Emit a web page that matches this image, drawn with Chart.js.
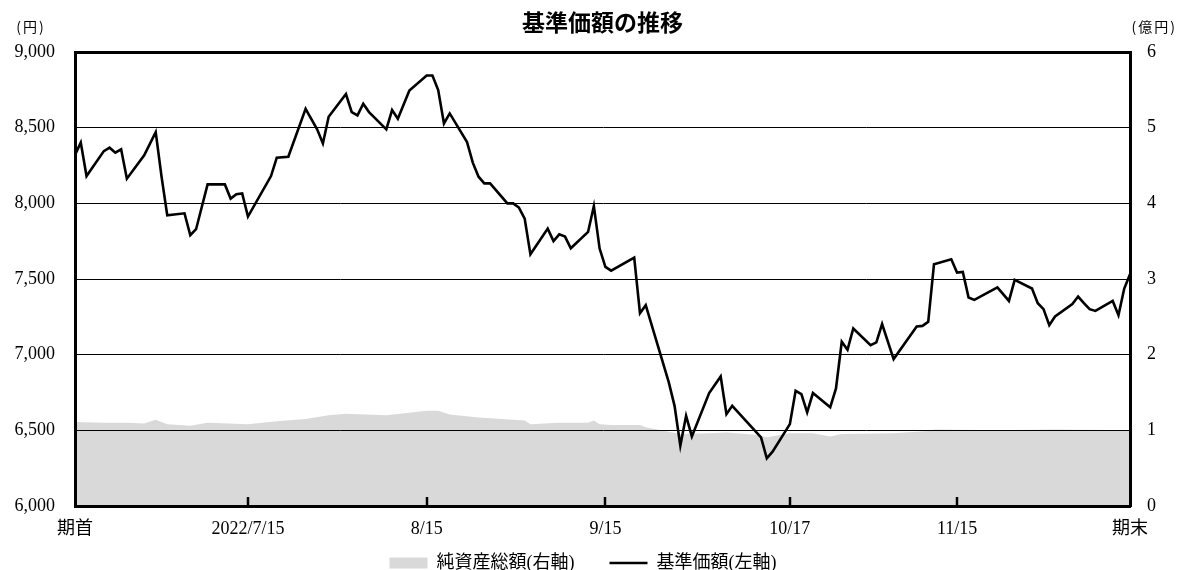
<!DOCTYPE html>
<html lang="ja">
<head>
<meta charset="utf-8">
<title>基準価額の推移</title>
<script src="https://cdn.jsdelivr.net/npm/chart.js@4.4.1/dist/chart.umd.min.js"></script>
<style>
  html, body { margin: 0; padding: 0; background: #fff; }
  canvas { display: block; }
</style>
</head>
<body>
<canvas id="c" width="1178" height="570"></canvas>
<script>
// ---- data (2022) ----
const navDates = ['6/15','6/16','6/17','6/20','6/21','6/22','6/23','6/24','6/27','6/29','6/30','7/1','7/4','7/5','7/6','7/8','7/11','7/12','7/13','7/14','7/15','7/19','7/20','7/22','7/25','7/27','7/28','7/29','8/1','8/2','8/3','8/4','8/5','8/8','8/9','8/10','8/12','8/15','8/16','8/17','8/18','8/19','8/22','8/23','8/24','8/25','8/26','8/29','8/30','8/31','9/1','9/2','9/5','9/6','9/7','9/8','9/9','9/12','9/13','9/14','9/15','9/16','9/20','9/21','9/22','9/26','9/27','9/28','9/29','9/30','10/3','10/5','10/6','10/7','10/12','10/13','10/14','10/17','10/18','10/19','10/20','10/21','10/24','10/25','10/26','10/27','10/28','10/31','11/1','11/2','11/4','11/8','11/9','11/10','11/11','11/14','11/15','11/16','11/17','11/18','11/22','11/24','11/25','11/28','11/29','11/30','12/1','12/2','12/5','12/6','12/7','12/8','12/9','12/12','12/13','12/14','12/15'];
const navValues = [8320,8401,8180,8345,8368,8335,8357,8163,8317,8471,8180,7921,7934,7789,7829,8125,8125,8031,8060,8066,7912,8180,8302,8308,8625,8489,8396,8572,8722,8603,8581,8658,8603,8489,8616,8559,8746,8845,8845,8748,8528,8594,8405,8269,8176,8132,8132,8000,8000,7972,7899,7663,7833,7751,7795,7780,7703,7811,7982,7701,7580,7555,7642,7274,7327,6817,6662,6398,6596,6460,6746,6856,6607,6662,6454,6315,6359,6541,6761,6740,6619,6746,6652,6777,7085,7032,7173,7063,7081,7202,6971,7186,7190,7217,7598,7630,7543,7547,7378,7362,7444,7355,7494,7437,7340,7301,7195,7252,7334,7384,7340,7301,7289,7355,7261,7437,7532];

const assetDates = ['6/15','6/20','6/24','6/27','6/29','7/1','7/5','7/8','7/15','7/20','7/25','7/29','8/1','8/8','8/15','8/17','8/19','8/24','9/1','9/2','9/7','9/12','9/13','9/14','9/16','9/21','9/22','9/28','10/3','10/6','10/11','10/13','10/17','10/21','10/24','10/26','11/4','11/10','11/11','11/22','12/2','12/15'];
const assetValues = [1.11,1.10,1.10,1.09,1.14,1.08,1.06,1.10,1.08,1.12,1.15,1.20,1.22,1.20,1.26,1.26,1.21,1.17,1.13,1.08,1.10,1.10,1.13,1.08,1.07,1.07,1.04,0.95,0.96,0.97,0.94,0.91,0.96,0.96,0.92,0.95,0.96,0.99,1.01,1.00,1.01,1.00];

const xTickDates = ['6/15','7/15','8/15','9/15','10/17','11/15','12/15'];
const xTickLabels = ['期首','2022/7/15','8/15','9/15','10/17','11/15','期末'];

const navLeftMin = 6000, navLeftMax = 9000, navLeftStep = 500;
const assetRightMin = 0, assetRightMax = 6, assetRightStep = 1;

const seriesNames = ['純資産総額(右軸)', '基準価額(左軸)'];
const chartTitle = '基準価額の推移';
const leftUnit = '(円)';
const rightUnit = '(億円)';

// ---- helpers ----
const YEAR = 2022;
function dayOffset(md) {
  const [m, d] = md.split('/').map(Number);
  return (Date.UTC(YEAR, m - 1, d) - Date.UTC(YEAR, 5, 15)) / 86400000;
}
const xTickValues = xTickDates.map(dayOffset);

const serif = "'Liberation Serif', 'Noto Sans CJK JP', serif";
Chart.defaults.font.family = serif;
Chart.defaults.color = '#000';

const unitLabels = {
  id: 'unitLabels',
  afterDraw(chart) {
    const ctx = chart.ctx;
    ctx.save();
    ctx.fillStyle = '#000';
    ctx.font = "14px 'Noto Sans CJK JP', sans-serif";
    ctx.textBaseline = 'middle';
    ctx.letterSpacing = '2px';
    ctx.textAlign = 'center';
    ctx.fillText(leftUnit, 31, 27);
    ctx.textAlign = 'right';
    ctx.fillText(rightUnit, 1177, 27);
    ctx.restore();
  }
};

// keep the bottom axis labels from being clipped to the thin axis box
const xLabelRoom = {
  id: 'xLabelRoom',
  afterLayout(chart) {
    chart.scales.x.bottom = chart.height;
  }
};

const innerTicks = {
  id: 'innerTicks',
  afterDraw(chart) {
    const xs = chart.scales.x;
    const ctx = chart.ctx;
    const bottom = chart.chartArea.bottom;
    ctx.save();
    ctx.strokeStyle = '#000';
    ctx.lineWidth = 2.5;
    xTickValues.slice(1, -1).forEach(v => {
      const px = Math.round(xs.getPixelForValue(v));
      ctx.beginPath();
      ctx.moveTo(px, bottom);
      ctx.lineTo(px, bottom - 9);
      ctx.stroke();
    });
    ctx.restore();
  }
};

new Chart(document.getElementById('c'), {
  type: 'line',
  data: {
    datasets: [
      {
        label: seriesNames[0],
        data: assetDates.map((d, i) => ({ x: dayOffset(d), y: assetValues[i] })),
        yAxisID: 'y2',
        fill: 'origin',
        backgroundColor: '#d9d9d9',
        borderColor: '#d9d9d9',
        borderWidth: 0,
        pointRadius: 0,
        pointStyle: 'rect',
        tension: 0,
        order: 1
      },
      {
        label: seriesNames[1],
        data: navDates.map((d, i) => ({ x: dayOffset(d), y: navValues[i] })),
        yAxisID: 'y',
        fill: false,
        borderColor: '#000',
        backgroundColor: '#000',
        borderWidth: 2.6,
        pointRadius: 0,
        pointStyle: 'line',
        tension: 0,
        order: 0
      }
    ]
  },
  options: {
    responsive: false,
    animation: false,
    devicePixelRatio: 1,
    layout: { padding: { left: 0, right: 12, top: 0, bottom: -12 } },
    plugins: {
      tooltip: { enabled: false },
      title: {
        display: true,
        fullSize: false,
        text: chartTitle,
        font: { family: "'Noto Sans CJK JP', sans-serif", size: 23, weight: 'bold', lineHeight: 1.2 },
        color: '#000',
        padding: { top: 8, bottom: 16.4 }
      },
      legend: {
        position: 'bottom',
        labels: {
          usePointStyle: true,
          pointStyleWidth: 38,
          boxHeight: 11,
          padding: 35,
          font: { size: 18 },
          color: '#000',
          sort: (a, b) => a.datasetIndex - b.datasetIndex
        }
      }
    },
    scales: {
      x: {
        type: 'linear',
        min: xTickValues[0],
        max: xTickValues[xTickValues.length - 1],
        afterBuildTicks: (s) => { s.ticks = xTickValues.map(v => ({ value: v })); },
        afterFit: (s) => { s.height = 13; },
        ticks: {
          autoSkip: false,
          maxRotation: 0,
          padding: 12,
          font: { size: 18 },
          color: '#000',
          callback: (v) => xTickLabels[xTickValues.indexOf(v)]
        },
        grid: { display: true, drawOnChartArea: false, drawTicks: false },
        border: { display: true, color: '#000', width: 3, z: 2 }
      },
      y: {
        position: 'left',
        min: navLeftMin,
        max: navLeftMax,
        afterFit: (s) => { s.width = 75; },
        ticks: {
          stepSize: navLeftStep,
          padding: 20,
          font: { size: 18 },
          color: '#000',
          callback: (v) => v.toLocaleString('en-US')
        },
        grid: {
          z: 1,
          color: '#000',
          lineWidth: (c) => (c.tick && c.tick.value === navLeftMax ? 3 : 1),
          drawTicks: false
        },
        border: { display: true, color: '#000', width: 3, z: 2 }
      },
      y2: {
        position: 'right',
        min: assetRightMin,
        max: assetRightMax,
        afterFit: (s) => { s.width = 36; },
        ticks: {
          stepSize: assetRightStep,
          padding: 17,
          font: { size: 18 },
          color: '#000',
          callback: (v) => String(v)
        },
        grid: { drawOnChartArea: false, drawTicks: false },
        border: { display: true, color: '#000', width: 3, z: 2 }
      }
    }
  },
  plugins: [unitLabels, xLabelRoom, innerTicks]
});
</script>
</body>
</html>
